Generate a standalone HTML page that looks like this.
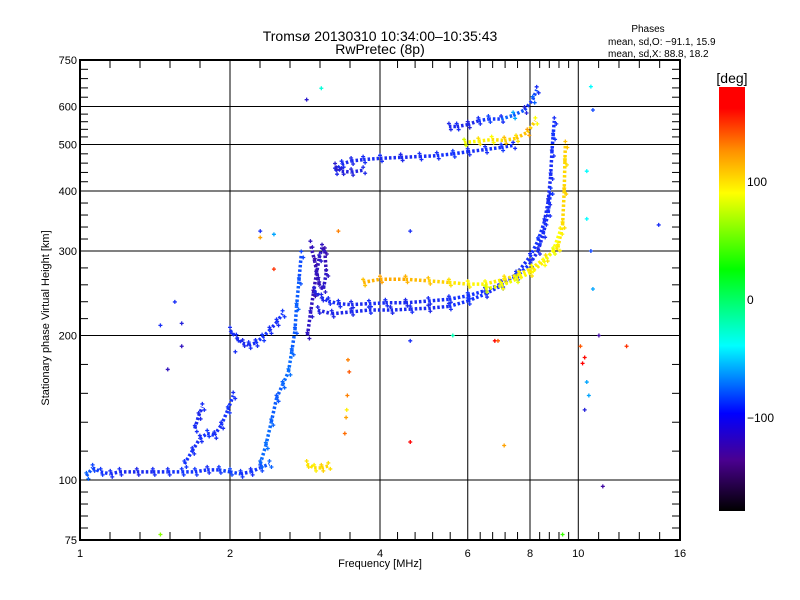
<!DOCTYPE html>
<html><head><meta charset="utf-8"><style>
html,body{margin:0;padding:0;background:#fff;}
svg{display:block;font-family:"Liberation Sans",sans-serif;}
</style></head><body>
<svg id="chart" width="800" height="600" viewBox="0 0 800 600" xmlns="http://www.w3.org/2000/svg">
<defs>
<linearGradient id="cbar" x1="0" y1="1" x2="0" y2="0">
<stop offset="0" stop-color="#000000"/>
<stop offset="0.12" stop-color="#4a0090"/>
<stop offset="0.23" stop-color="#0000ff"/>
<stop offset="0.32" stop-color="#0090ff"/>
<stop offset="0.39" stop-color="#00ffff"/>
<stop offset="0.48" stop-color="#00ff80"/>
<stop offset="0.57" stop-color="#00ff00"/>
<stop offset="0.75" stop-color="#ffff00"/>
<stop offset="0.85" stop-color="#ff9000"/>
<stop offset="0.95" stop-color="#ff0000"/>
<stop offset="1" stop-color="#ff0000"/>
</linearGradient>
</defs>
<text x="380" y="41" font-size="14" text-anchor="middle">Tromsø 20130310 10:34:00–10:35:43</text>
<text x="380" y="54" font-size="14" text-anchor="middle">RwPretec (8p)</text>
<text x="648" y="32" font-size="10" text-anchor="middle">Phases</text>
<text x="608" y="45" font-size="10">mean, sd,O: −91.1, 15.9</text>
<text x="608" y="57" font-size="10">mean, sd,X:  88.8, 18.2</text>
<g id="grid"></g>
<g id="marks"></g>
<rect x="80" y="60" width="600" height="480" fill="none" stroke="#000" stroke-width="2"/>
<g id="axes"></g>
<text x="380" y="567" font-size="11" text-anchor="middle">Frequency [MHz]</text>
<text x="0" y="0" font-size="11" text-anchor="middle" transform="translate(49,318) rotate(-90)">Stationary phase Virtual Height [km]</text>
<rect x="719" y="87" width="26" height="424" fill="url(#cbar)"/>
<text x="732" y="83" font-size="14" text-anchor="middle">[deg]</text>
<g id="cbticks"></g>
</svg>
<script>
// ---- data ----
const xMajorTicks = [1, 2, 4, 6, 8, 10, 16];
const yMajorTicks = [75, 100, 200, 300, 400, 500, 600, 750];
const cbTicks = [100, 0, -100];

const eF = [1.03,1.06,1.1,1.15,1.2,1.3,1.4,1.5,1.6,1.7,1.8,1.9,2.0,2.1,2.2,2.3,2.4];
const eH = [102,106,104,103,104,104,104,104,104,104,105,105,104,103,104,106,108];
const eP = [-80,-90,-95,-100,-100,-105,-100,-100,-95,-95,-100,-95,-90,-95,-100,-90,-80];

const esF = [1.62,1.68,1.74,1.8,1.86,1.92,1.98,2.03];
const esH = [108,115,122,125,124,130,140,150];
const esP = [-95,-100,-100,-95,-100,-100,-95,-100];

const es2F = [1.70,1.73,1.76];
const es2H = [128,136,142];
const es2P = [-100,-105,-100];

const f1F = [2.3,2.36,2.42,2.48,2.55,2.62,2.66,2.7,2.72,2.75,2.78];
const f1H = [108,118,132,148,158,168,185,205,230,260,295];
const f1P = [-80,-75,-80,-85,-80,-75,-80,-85,-80,-85,-90];

const blobF = [2.86,2.9,2.94,2.98,3.02,3.06,3.1,3.12,3.08,3.02,2.96,2.9];
const blobH = [200,222,245,268,290,305,300,270,250,255,285,310];
const blobP = [-120,-115,-125,-120,-115,-120,-125,-120,-115,-120,-125,-120];

const dipF = [2.0,2.06,2.12,2.18,2.25,2.32,2.4,2.48,2.55];
const dipH = [205,198,193,191,193,198,205,213,222];
const dipP = [-100,-100,-105,-100,-100,-95,-100,-100,-95];

const oF = [2.95,3.05,3.15,3.3,3.5,3.8,4.1,4.5,5.0,5.5,6.0,6.5,7.0,7.5,8.0,8.3,8.55,8.7,8.8,8.85,8.9,8.95];
const oH = [248,240,236,233,232,233,234,234,236,238,242,248,256,268,292,315,345,380,430,480,520,560];
const oP = [-110,-105,-100,-100,-105,-100,-100,-105,-100,-100,-95,-100,-105,-100,-100,-95,-100,-105,-100,-100,-95,-100];

const o2F = [3.0,3.2,3.5,3.8,4.2,4.6,5.0,5.5,6.0,6.5,7.0,7.5,8.0,8.3,8.5,8.7,8.8];
const o2H = [226,222,224,226,226,227,228,230,236,244,254,265,282,300,325,360,400];
const o2P = [-110,-105,-105,-100,-105,-100,-105,-100,-95,-100,-100,-95,-100,-105,-100,-100,-95];

const xF = [3.7,4.0,4.5,5.0,5.5,6.0,6.5,7.1,7.6,8.05,8.6,9.1,9.3,9.37,9.4,9.42];
const xH = [258,262,262,260,258,256,256,262,268,276,290,305,340,400,460,500];
const xP = [110,120,115,110,100,95,90,100,95,90,100,95,100,105,100,110];

const x2F = [6.5,7.0,7.5,8.0,8.5,8.9,9.2];
const x2H = [250,254,262,270,284,300,330];
const x2P = [80,90,85,100,90,85,95];

const hopF = [3.25,3.35,3.5,3.7,4.0,4.4,4.8,5.2,5.6,6.0,6.5,7.0,7.4];
const hopH = [440,455,462,465,468,470,472,474,478,483,488,493,498];
const hopP = [-105,-100,-105,-100,-100,-105,-100,-100,-95,-100,-100,-95,-100];

const hop2F = [3.25,3.35,3.5,3.7];
const hop2H = [450,440,438,442];
const hop2P = [-115,-110,-110,-105];

const hopUpF = [5.9,6.3,6.7,7.1,7.5,7.9,8.2];
const hopUpH = [505,508,512,510,515,530,560];
const hopUpP = [80,100,90,110,100,120,90];

const hopHiF = [5.5,5.7,6.0,6.3,6.6,7.0,7.4,7.8,8.1,8.25];
const hopHiH = [545,545,550,560,565,565,575,590,620,650];
const hopHiP = [-105,-100,-110,-100,-90,-100,-60,-110,-80,-100];

const esYF = [2.85,2.95,3.05,3.15];
const esYH = [108,106,106,107];
const esYP = [100,95,105,100];

const orF = [3.45,3.47,3.44,3.42,3.40,3.43];
const orH = [178,168,150,135,125,140];
const orP = [130,140,130,120,135,95];

const scF = [2.85,3.05,1.45,1.6,1.55,1.6,2.05,2.3,2.3,2.45,2.45,4.6,4.6,4.6,5.6,6.8,6.9,7.1,10.1,10.2,10.4,10.5,10.6,10.4,10.4,10.7,10.6,11.2,11.0,12.5,14.5,10.3,10.7,9.3,1.45,3.3,1.5,10.3];
const scH = [620,655,210,212,235,190,185,330,320,325,275,195,120,330,200,195,195,118,190,175,160,150,300,350,440,590,660,97,200,190,340,140,250,77,77,330,170,180];
const scP = [-115,-30,-100,-110,-100,-120,-100,-100,120,-60,150,-100,170,-100,-20,170,140,120,140,170,-60,-60,-90,-40,-40,-90,-40,-130,-130,150,-100,-110,-60,40,60,130,-120,160];

const traces = [[eF,eH,eP],[esF,esH,esP],[es2F,es2H,es2P],[f1F,f1H,f1P],[blobF,blobH,blobP],
 [dipF,dipH,dipP],[oF,oH,oP],[o2F,o2H,o2P],[xF,xH,xP],[x2F,x2H,x2P],[hopF,hopH,hopP],
 [hop2F,hop2H,hop2P],[hopUpF,hopUpH,hopUpP],[hopHiF,hopHiH,hopHiP],[esYF,esYH,esYP]];

// ---- axis functions ----
const X0=80, X1=680, Y0=540, Y1=60;
function xs(f){ return X0 + (X1-X0)*Math.log2(f)/4; }
function ys(h){ return Y0 - (Y0-Y1)*Math.log10(h/75); }
function cbY(p){ return 511 - 424*(p+180)/360; }
const cstops=[[0,[0,0,0]],[0.12,[74,0,144]],[0.23,[20,50,255]],[0.32,[0,144,255]],[0.39,[0,255,255]],[0.48,[0,255,128]],[0.57,[0,255,0]],[0.75,[255,255,0]],[0.85,[255,144,0]],[0.95,[255,0,0]],[1,[255,0,0]]];
function pc(p){
  let t=Math.max(0,Math.min(1,(p+180)/360));
  for(let i=1;i<cstops.length;i++){
    if(t<=cstops[i][0]){
      const a=cstops[i-1],b=cstops[i],u=(t-a[0])/(b[0]-a[0]||1);
      const c=a[1].map((v,k)=>Math.round(v+(b[1][k]-v)*u));
      return 'rgb('+c.join(',')+')';
    }
  }
  return 'rgb(255,0,0)';
}
const NS='http://www.w3.org/2000/svg';
function mk(tag,attrs,parent){const e=document.createElementNS(NS,tag);for(const k in attrs)e.setAttribute(k,attrs[k]);parent.appendChild(e);return e;}

const grid=document.getElementById('grid'), axes=document.getElementById('axes'), marks=document.getElementById('marks'), cbt=document.getElementById('cbticks');

xMajorTicks.forEach((f,i)=>{
  const x=xs(f);
  if(i>0&&i<xMajorTicks.length-1){
    const l=mk('line',{x1:x,y1:Y1,x2:x,y2:Y0,stroke:'#000','stroke-width':1},grid);
    
    
  }
  const t=mk('text',{x:x,y:Y0+17,'font-size':11,'text-anchor':'middle'},axes);
  t.textContent=f;
  
  
  if(i<xMajorTicks.length-1){
    const a=xMajorTicks[i],b=xMajorTicks[i+1];
    for(let k=1;k<5;k++){
      const xm=xs(a*Math.pow(b/a,k/5));
      const m1=mk('line',{x1:xm,y1:Y0,x2:xm,y2:Y0-8,stroke:'#000','stroke-width':1},axes);
      
      
      const m2=mk('line',{x1:xm,y1:Y1,x2:xm,y2:Y1+8,stroke:'#000','stroke-width':1},axes);
      
      
    }
  }
});
yMajorTicks.forEach((h,i)=>{
  const y=ys(h);
  if(i>0&&i<yMajorTicks.length-1){
    const l=mk('line',{x1:X0,y1:y,x2:X1,y2:y,stroke:'#000','stroke-width':1},grid);
    
    
  }
  const t=mk('text',{x:X0-3,y:y+4,'font-size':11,'text-anchor':'end'},axes);
  t.textContent=h;
  
  
  if(i<yMajorTicks.length-1){
    const a=yMajorTicks[i],b=yMajorTicks[i+1];
    for(let k=1;k<5;k++){
      const ym=ys(a*Math.pow(b/a,k/5));
      const m1=mk('line',{x1:X0,y1:ym,x2:X0+8,y2:ym,stroke:'#000','stroke-width':1},axes);
      
      
      const m2=mk('line',{x1:X1,y1:ym,x2:X1-8,y2:ym,stroke:'#000','stroke-width':1},axes);
      
      
    }
  }
});
cbTicks.forEach(p=>{
  const t=mk('text',{x:747,y:cbY(p)+5,'font-size':12},cbt);
  t.textContent=p===-100?'−100':String(p);
  
  
});

function plus(x,y,c){
  const p=mk('path',{d:'M'+(x-2)+' '+y+'h4M'+x+' '+(y-2)+'v4',stroke:c,'stroke-width':1.3,fill:'none'},marks);
  
  
}
traces.forEach(tr=>{
  const [F,H,P]=tr;
  for(let i=0;i<F.length-1;i++){
    const s=mk('line',{x1:xs(F[i]),y1:ys(H[i]),x2:xs(F[i+1]),y2:ys(H[i+1]),stroke:pc((P[i]+P[i+1])/2),'stroke-width':3.5,'stroke-dasharray':'2.5 2'},marks);
    
    
  }
  for(let i=0;i<F.length;i++){
    plus(xs(F[i]),ys(H[i])-3,pc(P[i]));
    plus(xs(F[i])+2,ys(H[i])+3,pc(P[i]));
  }
});
orF.forEach((f,i)=>plus(xs(f),ys(orH[i]),pc(orP[i])));
scF.forEach((f,i)=>plus(xs(f),ys(scH[i]),pc(scP[i])));
</script>
</body></html>
